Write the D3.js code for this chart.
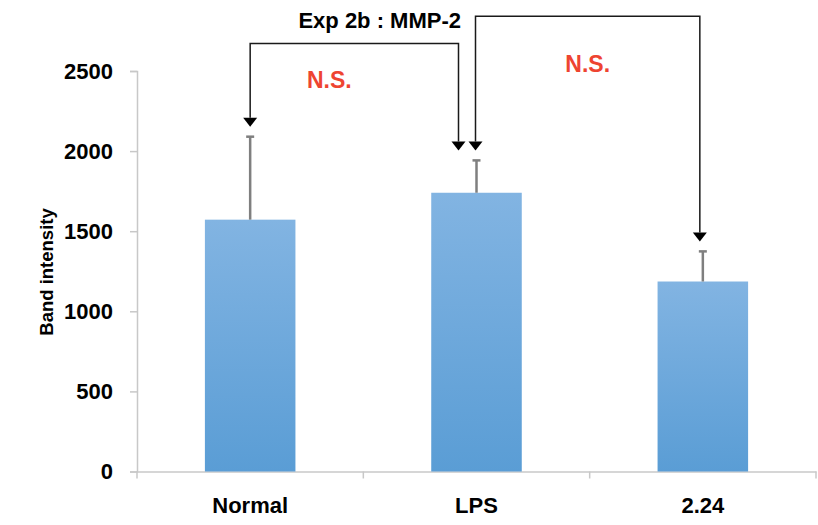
<!DOCTYPE html>
<html lang="en">
<head>
<meta charset="UTF-8"/>
<title>Exp 2b : MMP-2</title>
<script src="https://cdn.jsdelivr.net/npm/d3@7"></script>
<style>
  body {margin: 0; background: #fff;}
  svg text {font-family: 'Liberation Sans', Arial, sans-serif; font-weight: bold;}
</style>
</head>
<body>
<div class="graph"></div>
<script>
  // data
  const categories = ['Normal', 'LPS', '2.24'];
  const means = [1572, 1740, 1186];
  const errors = [518, 202, 188];
  const yTicks = [0, 500, 1000, 1500, 2000, 2500];
  // comparisons: [from, to, bracket level (value units), label]
  const compFrom = [0, 1];
  const compTo = [1, 2];
  const compLevel = [2672, 2841];
  const compLabel = ['N.S.', 'N.S.'];

  const width = 818, height = 525;
  const margin = {top: 71, right: 2, bottom: 54, left: 137};

  const svg = d3.select('.graph').append('svg')
    .attr('width', width)
    .attr('height', height);

  const x = d3.scaleBand()
    .domain(categories)
    .range([margin.left, width - margin.right])
    .padding(0);

  const y = d3.scaleLinear()
    .domain([0, 2500])
    .range([height - margin.bottom + 0.5, margin.top]);

  // gradient for the bars
  const grad = svg.append('defs').append('linearGradient')
    .attr('id', 'barGrad')
    .attr('x1', 0).attr('y1', 0).attr('x2', 0).attr('y2', 1);
  grad.append('stop').attr('offset', '0%').attr('stop-color', '#82b4e2');
  grad.append('stop').attr('offset', '100%').attr('stop-color', '#5a9dd5');

  const barW = x.bandwidth() * 0.4;
  const cx = d => x(d) + x.bandwidth() / 2;

  // Y axis
  const yAxis = svg.append('g')
    .attr('transform', 'translate(' + margin.left + ',0)')
    .call(d3.axisLeft(y).tickValues(yTicks).tickSize(7).tickPadding(17).tickFormat(d3.format('d')));
  yAxis.select('.domain').attr('stroke', '#c8c8c8').attr('stroke-width', 1.5);
  yAxis.selectAll('.tick line').attr('stroke', '#c8c8c8').attr('stroke-width', 1.5);
  yAxis.selectAll('text').style('font-size', '22px').attr('fill', '#000');

  // X axis (labels at centres, ticks between categories)
  const xAxis = svg.append('g')
    .attr('transform', 'translate(0,' + y(0) + ')')
    .call(d3.axisBottom(x).tickSize(0).tickPadding(26));
  xAxis.select('.domain').attr('stroke', '#c8c8c8').attr('stroke-width', 1.5);
  xAxis.selectAll('text').style('font-size', '22px').attr('fill', '#000');
  xAxis.selectAll('.sep')
    .data(d3.range(categories.length + 1))
    .enter().append('line')
    .attr('class', 'sep')
    .attr('x1', i => i < categories.length ? x(categories[i]) : x.range()[1])
    .attr('x2', i => i < categories.length ? x(categories[i]) : x.range()[1])
    .attr('y1', 0).attr('y2', 7)
    .attr('stroke', '#c8c8c8').attr('stroke-width', 1.5);

  // y axis title
  svg.append('text')
    .attr('transform', 'rotate(-90)')
    .attr('x', -272)
    .attr('y', 53)
    .attr('text-anchor', 'middle')
    .style('font-size', '18.5px')
    .text('Band intensity');

  // bars
  svg.selectAll('.bar')
    .data(categories)
    .enter().append('rect')
    .attr('class', 'bar')
    .attr('x', d => cx(d) - barW / 2)
    .attr('width', barW)
    .attr('y', (d, i) => y(means[i]))
    .attr('height', (d, i) => y(0) - y(means[i]))
    .attr('fill', 'url(#barGrad)');

  // error bars (upper only)
  const err = svg.selectAll('.err')
    .data(categories)
    .enter().append('g')
    .attr('class', 'err')
    .attr('stroke', '#7f7f7f')
    .attr('stroke-width', 2.5);
  err.append('line')
    .attr('x1', d => cx(d)).attr('x2', d => cx(d))
    .attr('y1', (d, i) => y(means[i]))
    .attr('y2', (d, i) => y(means[i] + errors[i]));
  err.append('line')
    .attr('x1', d => cx(d) - 4).attr('x2', d => cx(d) + 4)
    .attr('y1', (d, i) => y(means[i] + errors[i]))
    .attr('y2', (d, i) => y(means[i] + errors[i]));

  // comparison brackets with arrows
  const arrowGap = 10, headW = 7, headH = 9;
  const shift = [[0, -18], [-1, -3]];
  compFrom.forEach((a, k) => {
    const b = compTo[k];
    const xa = cx(categories[a]) + shift[k][0];
    const xb = cx(categories[b]) + shift[k][1];
    const ya = y(means[a] + errors[a]) - arrowGap;
    const yb = y(means[b] + errors[b]) - arrowGap;
    const yl = y(compLevel[k]);
    svg.append('path')
      .attr('d', 'M' + xa + ',' + (ya - headH) + 'V' + yl + 'H' + xb + 'V' + (yb - headH))
      .attr('fill', 'none')
      .attr('stroke', '#1a1a1a')
      .attr('stroke-width', 1.5);
    [[xa, ya], [xb, yb]].forEach(p => {
      svg.append('path')
        .attr('d', 'M' + (p[0] - headW) + ',' + (p[1] - headH) + 'L' + (p[0] + headW) + ',' + (p[1] - headH) + 'L' + p[0] + ',' + p[1] + 'Z')
        .attr('fill', '#000');
    });
    svg.append('text')
      .attr('x', (xa + xb) / 2 - (k === 0 ? 25 : 0))
      .attr('y', yl + (k === 0 ? 45 : 56))
      .attr('text-anchor', 'middle')
      .attr('fill', '#ee4431')
      .style('font-size', '23px')
      .text(compLabel[k]);
  });

  // title
  svg.append('text')
    .attr('x', 461)
    .attr('y', 28)
    .attr('text-anchor', 'end')
    .style('font-size', '22px')
    .text('Exp 2b : MMP-2');
</script>
</body>
</html>
